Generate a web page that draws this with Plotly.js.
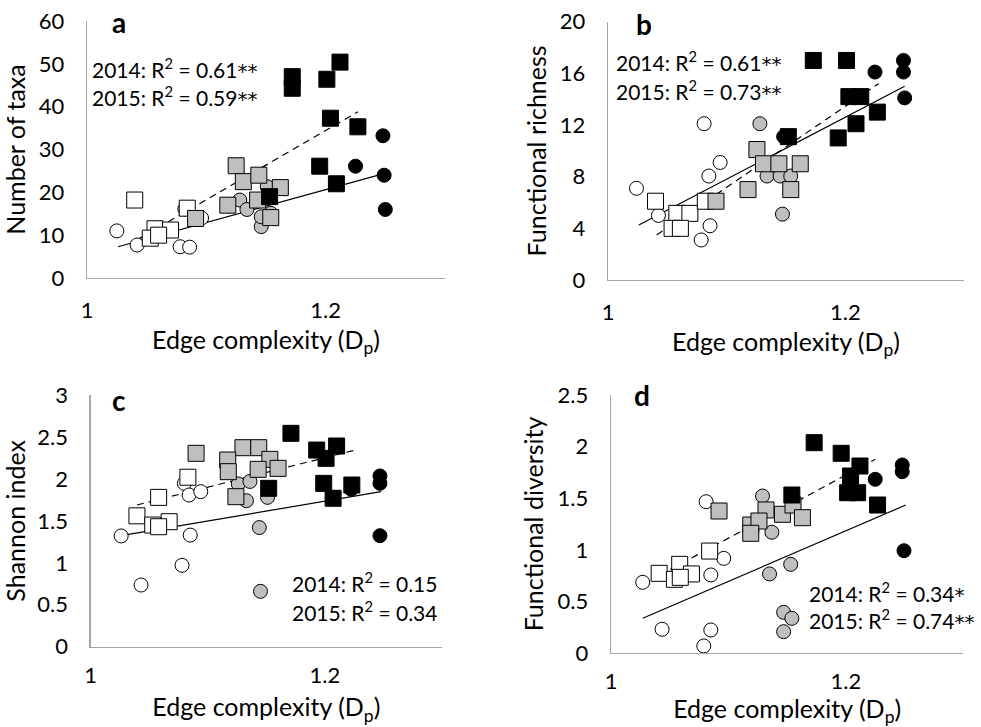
<!DOCTYPE html>
<html><head><meta charset="utf-8">
<script src="https://cdn.plot.ly/plotly-3.0.1.min.js"></script>
<style>html,body{margin:0;padding:0;background:#fff}#chart{width:981px;height:727px}</style>
</head><body><div id="chart"></div>
<script>
// ---------- Panel a: Number of taxa ----------
var aOpenCircX = [1.025, 1.042, 1.078, 1.086, 1.082, 1.096];
var aOpenCircY = [11.0, 7.7, 7.3, 7.2, 16.1, 14.0];
var aOpenSqX = [1.040, 1.084, 1.057, 1.070, 1.053, 1.060];
var aOpenSqY = [18.2, 16.3, 11.5, 11.2, 9.3, 10.0];
var aGrayCircX = [1.128, 1.134, 1.146, 1.154, 1.151, 1.146];
var aGrayCircY = [18.2, 16.0, 12.0, 15.1, 21.3, 14.3];
var aGraySqX = [1.125, 1.131, 1.144, 1.162, 1.118, 1.143, 1.154, 1.091];
var aGraySqY = [26.2, 22.5, 24.0, 21.1, 17.0, 18.2, 14.1, 13.9];
var aBlackCircX = [1.248, 1.225, 1.249, 1.250];
var aBlackCircY = [33.2, 26.1, 24.0, 16.0];
var aBlackSqX = [1.172, 1.172, 1.201, 1.212, 1.204, 1.227, 1.195, 1.209, 1.153];
var aBlackSqY = [47.0, 44.3, 46.4, 50.4, 37.3, 35.3, 26.1, 22.0, 19.0];
var aFitDashX = [1.042, 1.227], aFitDashY = [8.9, 38.8];
var aFitSolidX = [1.026, 1.248], aFitSolidY = [7.3, 24.3];

// ---------- Panel b: Functional richness ----------
var bOpenCircX = [1.081, 1.0945, 1.085, 1.024, 1.0425, 1.086, 1.0785, 1.082];
var bOpenCircY = [12.1, 9.1, 8.05, 7.1, 5.0, 4.2, 3.1, 6.05];
var bOpenSqX = [1.040, 1.058, 1.069, 1.054, 1.061, 1.082];
var bOpenSqY = [6.1, 5.16, 5.16, 4.0, 4.0, 6.1];
var bGrayCircX = [1.128, 1.134, 1.145, 1.154, 1.147];
var bGrayCircY = [12.1, 8.05, 8.05, 8.05, 5.1];
var bGraySqX = [1.1255, 1.131, 1.144, 1.162, 1.118, 1.154, 1.091];
var bGraySqY = [10.1, 9.0, 9.0, 9.0, 7.0, 7.0, 6.1];
var bBlackCircX = [1.249, 1.249, 1.225, 1.250, 1.148];
var bBlackCircY = [17.0, 16.1, 16.1, 14.1, 11.1];
var bBlackSqX = [1.173, 1.201, 1.203, 1.213, 1.227, 1.209, 1.194, 1.152];
var bBlackSqY = [17.0, 17.0, 14.2, 14.2, 13.0, 12.1, 11.0, 11.1];
var bFitDashX = [1.041, 1.228], bFitDashY = [3.48, 15.2];
var bFitSolidX = [1.026, 1.250], bFitSolidY = [4.26, 15.0];

// ---------- Panel c: Shannon index ----------
var cOpenCircX = [1.026, 1.085, 1.078, 1.043, 1.080, 1.084, 1.094];
var cOpenCircY = [1.32, 1.33, 0.97, 0.735, 1.947, 1.808, 1.848];
var cOpenSqX = [1.083, 1.058, 1.0395, 1.067, 1.053, 1.058];
var cOpenSqY = [2.02, 1.78, 1.56, 1.49, 1.45, 1.43];
var cGrayCircX = [1.126, 1.136, 1.133, 1.151, 1.144, 1.145];
var cGrayCircY = [1.94, 1.97, 1.74, 1.78, 1.42, 0.66];
var cGraySqX = [1.090, 1.130, 1.1435, 1.117, 1.1175, 1.153, 1.143, 1.160, 1.124];
var cGraySqY = [2.305, 2.372, 2.372, 2.225, 2.086, 2.233, 2.114, 2.126, 1.788];
var cBlackCircX = [1.247, 1.247, 1.2225, 1.247];
var cBlackCircY = [2.035, 1.947, 1.876, 1.323];
var cBlackSqX = [1.171, 1.193, 1.210, 1.201, 1.199, 1.223, 1.207, 1.152];
var cBlackSqY = [2.543, 2.344, 2.392, 2.245, 1.947, 1.927, 1.769, 1.888];
var cFitDashX = [1.0395, 1.226], cFitDashY = [1.689, 2.344];
var cFitSolidX = [1.026, 1.248], cFitSolidY = [1.323, 1.848];

// ---------- Panel d: Functional diversity ----------
var dOpenCircX = [1.081, 1.096, 1.085, 1.027, 1.0435, 1.085, 1.079];
var dOpenCircY = [1.466, 0.917, 0.756, 0.685, 0.230, 0.223, 0.068];
var dOpenSqX = [1.084, 1.041, 1.0585, 1.0685, 1.054, 1.059];
var dOpenSqY = [0.988, 0.772, 0.859, 0.766, 0.714, 0.733];
var dGrayCircX = [1.129, 1.137, 1.135, 1.153, 1.147, 1.154, 1.147];
var dGrayCircY = [1.521, 1.170, 0.766, 0.859, 0.394, 0.336, 0.207];
var dGraySqX = [1.092, 1.132, 1.146, 1.155, 1.163, 1.119, 1.126, 1.119];
var dGraySqY = [1.376, 1.386, 1.344, 1.434, 1.311, 1.240, 1.279, 1.160];
var dBlackCircX = [1.248, 1.248, 1.225, 1.2495];
var dBlackCircY = [1.822, 1.757, 1.683, 0.991];
var dBlackSqX = [1.173, 1.196, 1.212, 1.204, 1.2015, 1.210, 1.227, 1.154];
var dBlackSqY = [2.038, 1.935, 1.812, 1.715, 1.553, 1.553, 1.434, 1.531];
var dFitDashX = [1.0416, 1.225], dFitDashY = [0.756, 1.877];
var dFitSolidX = [1.027, 1.251], dFitSolidY = [0.336, 1.434];

// ---------- Labels ----------
var xTickVals = [1, 1.2], xTickText = ['1', '1.2'];
var aYTicks = [0, 10, 20, 30, 40, 50, 60];
var bYTicks = [0, 4, 8, 12, 16, 20];
var cYTicks = [0, 0.5, 1, 1.5, 2, 2.5, 3];
var dYTicks = [0, 0.5, 1, 1.5, 2, 2.5];
var xTitle = 'Edge complexity (D<sub>p</sub>)';
var yTitles = ['Number of taxa', 'Functional richness', 'Shannon index', 'Functional diversity'];
var panelLetters = ['a', 'b', 'c', 'd'];
var r2Years = ['2014', '2015'];
var r2Values = [['0.61', '0.59'], ['0.61', '0.73'], ['0.15', '0.34'], ['0.34', '0.74']];
var r2Stars = [['**', '**'], ['**', '**'], ['', ''], ['*', '**']];

// ---------- Build ----------
var W = 981, H = 727;
var FONT = 'Lato, "Open Sans", sans-serif';
var GRAY = '#bfbfbf';
function px2x(p) { return p / W; }
function px2y(p) { return 1 - p / H; }
function r2Text(i, k) {
  var s = r2Years[k] + ': R<sup>2</sup> = ' + r2Values[i][k];
  if (r2Stars[i][k]) s += '<span style="font-family:DejaVu Sans;font-size:20px">' + r2Stars[i][k] + '</span>';
  return s;
}

var panels = [
  {data:[aOpenCircX,aOpenCircY,aOpenSqX,aOpenSqY,aGrayCircX,aGrayCircY,aGraySqX,aGraySqY,aBlackCircX,aBlackCircY,aBlackSqX,aBlackSqY],
   dash:[aFitDashX,aFitDashY], solid:[aFitSolidX,aFitSolidY], yr:[0,60], yt:aYTicks,
   box:[87,445,21,278], letter:[110,22], r2:[90,68,96], tl:12, so:9},
  {data:[bOpenCircX,bOpenCircY,bOpenSqX,bOpenSqY,bGrayCircX,bGrayCircY,bGraySqX,bGraySqY,bBlackCircX,bBlackCircY,bBlackSqX,bBlackSqY],
   dash:[bFitDashX,bFitDashY], solid:[bFitSolidX,bFitSolidY], yr:[0,20], yt:bYTicks,
   box:[608,964,21.7,280], letter:[634,24], r2:[614,62,90], tl:12, so:9},
  {data:[cOpenCircX,cOpenCircY,cOpenSqX,cOpenSqY,cGrayCircX,cGrayCircY,cGraySqX,cGraySqY,cBlackCircX,cBlackCircY,cBlackSqX,cBlackSqY],
   dash:[cFitDashX,cFitDashY], solid:[cFitSolidX,cFitSolidY], yr:[0,3], yt:cYTicks,
   box:[90.7,442,395,646.7], letter:[110,400], r2:[290,582,611], tl:9, so:11},
  {data:[dOpenCircX,dOpenCircY,dOpenSqX,dOpenSqY,dGrayCircX,dGrayCircY,dGraySqX,dGraySqY,dBlackCircX,dBlackCircY,dBlackSqX,dBlackSqY],
   dash:[dFitDashX,dFitDashY], solid:[dFitSolidX,dFitSolidY], yr:[0,2.5], yt:dYTicks,
   box:[611,963.3,395,653], letter:[632,395], r2:[807,592,619], tl:8, so:10}
];

var groupStyles = [
  {symbol:'circle', fill:'#ffffff', size:14, name:'2014 low'},
  {symbol:'square', fill:'#ffffff', size:16, name:'2015 low'},
  {symbol:'circle', fill:GRAY, size:14, name:'2014 mid'},
  {symbol:'square', fill:GRAY, size:16, name:'2015 mid'},
  {symbol:'circle', fill:'#000000', size:14, name:'2014 high'},
  {symbol:'square', fill:'#000000', size:16, name:'2015 high'}
];

var traces = [], layout = {
  width: W, height: H, margin: {l:0, r:0, t:0, b:0},
  paper_bgcolor: '#fff', plot_bgcolor: '#fff', showlegend: false,
  font: {family: FONT, color: '#000', size: 20},
  annotations: []
};

panels.forEach(function(p, i) {
  var n = i + 1;
  var xa = n === 1 ? 'x' : 'x' + n, ya = n === 1 ? 'y' : 'y' + n;
  traces.push({x:p.solid[0], y:p.solid[1], xaxis:xa, yaxis:ya, mode:'lines', type:'scatter',
    line:{color:'#000', width:1.2}, hoverinfo:'skip', name:'fit 2014'});
  traces.push({x:p.dash[0], y:p.dash[1], xaxis:xa, yaxis:ya, mode:'lines', type:'scatter',
    line:{color:'#000', width:1.2, dash:'7px,5px'}, hoverinfo:'skip', name:'fit 2015'});
  groupStyles.forEach(function(g, j) {
    traces.push({x:p.data[2*j], y:p.data[2*j+1], xaxis:xa, yaxis:ya, mode:'markers', type:'scatter',
      name:g.name, cliponaxis:false,
      marker:{symbol:g.symbol, size:g.size, color:g.fill, line:{color:'#000', width:1}}});
  });
  var b = p.box;
  layout['xaxis' + (n === 1 ? '' : n)] = {
    domain:[px2x(b[0]), px2x(b[1])], range:[1, 1.3], anchor:ya,
    tickvals:xTickVals, ticktext:xTickText, ticks:'outside', ticklen:p.tl, tickcolor:'rgba(0,0,0,0)',
    showgrid:false, zeroline:false, showline:true, linecolor:'#a6a6a6', linewidth:1.3,
    tickfont:{family:FONT, size:22, color:'#000'},
    title:{text:xTitle, font:{family:FONT, size:25, color:'#000'}, standoff:p.so}
  };
  layout['yaxis' + (n === 1 ? '' : n)] = {
    domain:[px2y(b[3]), px2y(b[2])], range:p.yr, anchor:xa,
    tickvals:p.yt, ticktext:p.yt.map(String), ticks:'outside', ticklen:17, tickcolor:'rgba(0,0,0,0)',
    showgrid:false, zeroline:false, showline:true, linecolor:'#a6a6a6', linewidth:1.3,
    tickfont:{family:FONT, size:22, color:'#000'},
    title:{text:yTitles[i], font:{family:FONT, size:25, color:'#000'}, standoff:6}
  };
  layout.annotations.push({xref:'paper', yref:'paper', x:px2x(p.letter[0]), y:px2y(p.letter[1]),
    xanchor:'left', yanchor:'middle', showarrow:false, text:'<b>' + panelLetters[i] + '</b>',
    font:{family:FONT, size:28, color:'#000'}});
  layout.annotations.push({xref:'paper', yref:'paper', x:px2x(p.r2[0]), y:px2y(p.r2[1]),
    xanchor:'left', yanchor:'middle', showarrow:false, text:r2Text(i, 0),
    font:{family:FONT, size:21, color:'#000'}});
  layout.annotations.push({xref:'paper', yref:'paper', x:px2x(p.r2[0]), y:px2y(p.r2[2]),
    xanchor:'left', yanchor:'middle', showarrow:false, text:r2Text(i, 1),
    font:{family:FONT, size:21, color:'#000'}});
});

Plotly.newPlot('chart', traces, layout, {displayModeBar:false, staticPlot:true});
</script></body></html>
